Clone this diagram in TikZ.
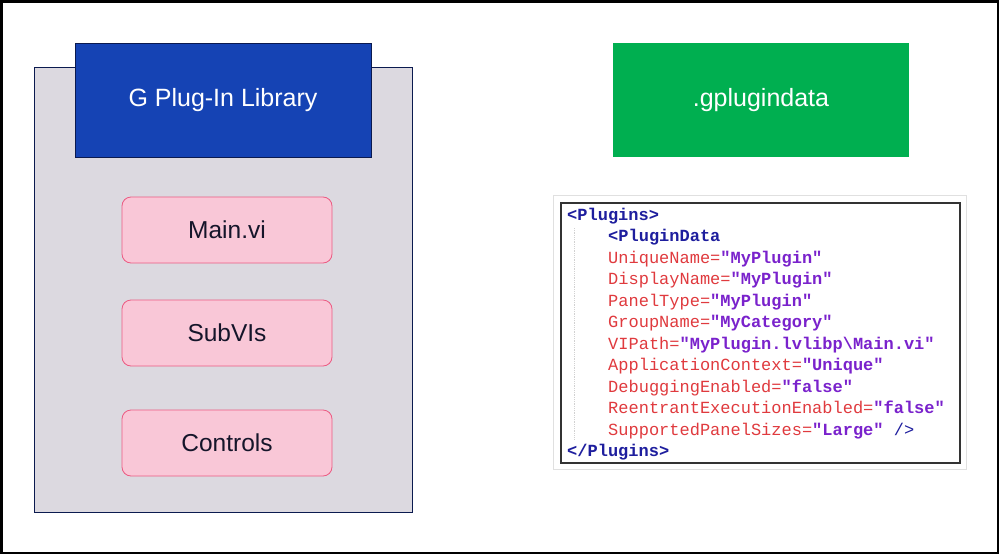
\documentclass[tikz,border=0pt]{standalone}
\usepackage{fontspec}
\setmainfont{Liberation Sans}
\setmonofont{Liberation Mono}
\definecolor{libgrey}{HTML}{DCD9E0}
\definecolor{navy}{HTML}{0B1A4F}
\definecolor{libblue}{HTML}{1543B4}
\definecolor{pinkfill}{HTML}{F9C7D7}
\definecolor{pinkline}{HTML}{EC5A82}
\definecolor{gpgreen}{HTML}{00AF50}
\definecolor{tagblue}{HTML}{1E1E9E}
\definecolor{attrred}{HTML}{E03A3E}
\definecolor{valpurple}{HTML}{7A22CC}
\definecolor{itemtext}{HTML}{15152A}
\tikzset{
  headbox/.style={draw=navy, line width=0.8pt, minimum width=296pt, minimum height=114pt, inner sep=0pt, text=white, font=\fontsize{25}{30}\selectfont},
  itembox/.style={draw=pinkline, fill=pinkfill, line width=0.8pt, rounded corners=9pt, minimum width=210pt, minimum height=66pt, inner sep=0pt, text=itemtext, font=\fontsize{24.5}{29}\selectfont},
  codeline/.style={anchor=base west, inner sep=0pt, font=\ttfamily\fontsize{17}{20}\selectfont},
}
\newcommand{\tg}[1]{\textcolor{tagblue}{\bfseries #1}}
\newcommand{\at}[1]{\textcolor{attrred}{#1}}
\newcommand{\vl}[1]{\textcolor{valpurple}{\bfseries #1}}
\begin{document}
\begin{tikzpicture}[x=1pt,y=-1pt]
\useasboundingbox (0,0) rectangle (999,554);
\fill[white] (0,0) rectangle (999,554);
\draw[black, line width=2.5pt] (1.25,1.25) rectangle (997.75,552.75);
% library container
\node[draw=navy, fill=libgrey, line width=0.8pt, minimum width=378pt, minimum height=445pt, inner sep=0pt] (lib) at (223,289.5) {};
\node[headbox, fill=libblue] (libhead) at (223,100) {G Plug-In Library};
\node[itembox] (mainvi) at (227,230) {Main.vi};
\node[itembox] (subvis) at (227,333) {SubVIs};
\node[itembox] (controls) at (227,443) {Controls};
% gplugindata
\node[headbox, draw=none, fill=gpgreen] (gpd) at (761,100) {.gplugindata};
% code box
\node[draw=black!12, line width=1pt, minimum width=413pt, minimum height=274pt, inner sep=0pt] (codeouter) at (759.5,332) {};
\node[draw=black!80, fill=white, line width=1.2pt, minimum width=399pt, minimum height=260pt, inner sep=0pt] (codebox) at (760.5,333) {};
\draw[black!18, line width=0.8pt, densely dotted] (574,228) -- (574,440);
\node[codeline] (l1) at (567,220) {\tg{<Plugins>}};
\node[codeline] (l2) at (608,241.5) {\tg{<PluginData}};
\node[codeline] (l3) at (608,263) {\at{UniqueName=}\vl{"MyPlugin"}};
\node[codeline] (l4) at (608,284.5) {\at{DisplayName=}\vl{"MyPlugin"}};
\node[codeline] (l5) at (608,306) {\at{PanelType=}\vl{"MyPlugin"}};
\node[codeline] (l6) at (608,327.5) {\at{GroupName=}\vl{"MyCategory"}};
\node[codeline] (l7) at (608,349) {\at{VIPath=}\vl{"MyPlugin.lvlibp\textbackslash Main.vi"}};
\node[codeline] (l8) at (608,370.5) {\at{ApplicationContext=}\vl{"Unique"}};
\node[codeline] (l9) at (608,392) {\at{DebuggingEnabled=}\vl{"false"}};
\node[codeline] (l10) at (608,413.5) {\at{ReentrantExecutionEnabled=}\vl{"false"}};
\node[codeline] (l11) at (608,435) {\at{SupportedPanelSizes=}\vl{"Large"} \textcolor{tagblue}{/>}};
\node[codeline] (l12) at (567,456) {\tg{</Plugins>}};
\end{tikzpicture}
\end{document}
